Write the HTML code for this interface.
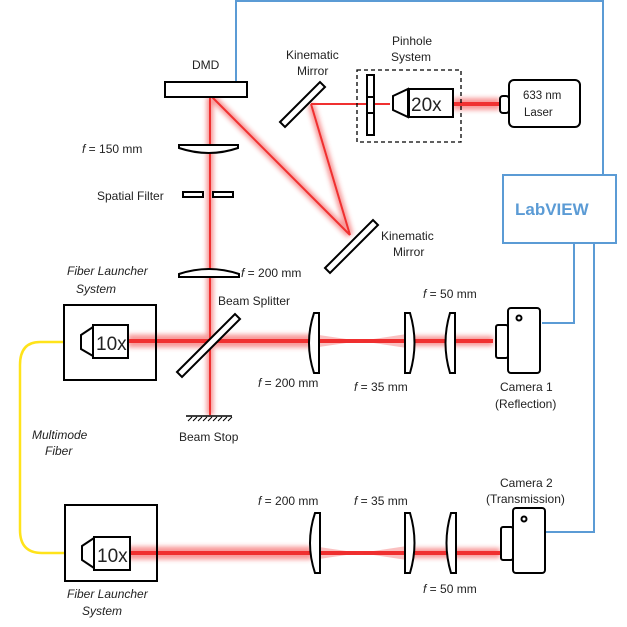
<!DOCTYPE html>
<html><head><meta charset="utf-8"><style>
body{margin:0;background:#fff}
svg{display:block}
text{font-family:"Liberation Sans",sans-serif;font-size:12px;fill:#222}
.i{font-style:italic}
</style></head><body>
<svg width="627" height="627" viewBox="0 0 627 627" xmlns="http://www.w3.org/2000/svg">
<defs>
<filter id="bl" x="-20%" y="-50%" width="140%" height="200%"><feGaussianBlur stdDeviation="2.5"/></filter>
</defs>
<g fill="none" stroke="#5b9bd5" stroke-width="2">
<polyline points="236,82 236,1 603,1 603,175"/>
<rect x="503" y="175" width="113" height="68" fill="#fff"/>
<polyline points="574,243 574,323 542,323"/>
<polyline points="594,243 594,532 545,532"/>
</g>
<text x="515" y="215" style="font-size:17px;font-weight:bold;fill:#5b9bd5">LabVIEW</text>

<g stroke="#f03030" fill="none">
<g stroke-width="7" opacity="0.5" filter="url(#bl)">
<line x1="210" y1="97" x2="210" y2="415"/>
<line x1="212" y1="97" x2="350" y2="235"/>
<line x1="311" y1="104" x2="350" y2="235"/>
<line x1="453" y1="104" x2="500" y2="104" stroke-width="12"/>
<line x1="128" y1="341" x2="312" y2="341" stroke-width="13"/>
<line x1="128" y1="553" x2="312" y2="553" stroke-width="13"/>
<line x1="407" y1="341" x2="493" y2="341" stroke-width="10"/>
<line x1="407" y1="553" x2="500" y2="553" stroke-width="10"/>
</g>
<line x1="210" y1="97" x2="210" y2="415" stroke-width="2"/>
<line x1="212" y1="97" x2="350" y2="235" stroke-width="2"/>
<line x1="311" y1="104" x2="350" y2="235" stroke-width="2"/>
<line x1="311" y1="104" x2="390" y2="104" stroke-width="2"/>
<line x1="453" y1="104" x2="500" y2="104" stroke-width="4"/>
<line x1="82" y1="341" x2="493" y2="341" stroke-width="4"/>
<line x1="82" y1="553" x2="500" y2="553" stroke-width="4"/>
</g>
<polygon points="312,334 360,341 312,348" fill="#f03030" opacity="0.3"/>
<polygon points="360,341 407,334 407,348" fill="#f03030" opacity="0.3"/>
<polygon points="312,546 360,553 312,560" fill="#f03030" opacity="0.3"/>
<polygon points="360,553 407,546 407,560" fill="#f03030" opacity="0.3"/>

<path d="M64,342 L40,342 Q20,342 20,365 L20,530 Q20,553 42,553 L65,553" fill="none" stroke="#ffe31a" stroke-width="2.5"/>

<g fill="#fff" stroke="#000" stroke-width="2">
<rect x="165" y="82" width="82" height="15"/>
<polygon points="280,122 320,82 325,87 285,127"/>
<polygon points="325,268 373,220 378,225 330,273"/>
<rect x="357" y="70" width="104" height="72" fill="none" stroke-dasharray="4,3" stroke-width="1.3"/>
<rect x="367" y="75" width="7" height="60"/>
<line x1="367" y1="97" x2="374" y2="97"/><line x1="367" y1="113" x2="374" y2="113"/>
<polygon points="393,96 408,89 408,117 393,110"/>
<rect x="409" y="89" width="44" height="28"/>
<rect x="509" y="80" width="71" height="47" rx="5"/>
<rect x="500" y="96" width="9" height="17" rx="3"/>
<path d="M179,145 L238,145 L238,148 Q209,158 179,148 Z"/>
<rect x="183" y="192" width="20" height="5"/>
<rect x="213" y="192" width="20" height="5"/>
<path d="M179,277 L239,277 L239,274 Q209,264 179,274 Z"/>
<polygon points="177,372 235,314 240,319 182,377"/>
<line x1="186" y1="416" x2="232" y2="416" stroke-width="1.5"/>
</g>
<g stroke="#000" stroke-width="1">
<line x1="188" y1="421" x2="192" y2="417"/><line x1="193" y1="421" x2="197" y2="417"/><line x1="198" y1="421" x2="202" y2="417"/><line x1="203" y1="421" x2="207" y2="417"/><line x1="208" y1="421" x2="212" y2="417"/><line x1="213" y1="421" x2="217" y2="417"/><line x1="218" y1="421" x2="222" y2="417"/><line x1="223" y1="421" x2="227" y2="417"/><line x1="228" y1="421" x2="232" y2="417"/>
</g>

<g fill="none" stroke="#000" stroke-width="2">
<rect x="64" y="305" width="92" height="75"/>
<polygon points="81,335 93,327 93,356 81,349" fill="#fff"/>
<rect x="93" y="325" width="35" height="33" fill="#fff"/>
<rect x="65" y="505" width="92" height="76"/>
<polygon points="82,546 94,538 94,568 82,560" fill="#fff"/>
<rect x="94" y="537" width="36" height="33" fill="#fff"/>
</g>
<g fill="#fff" stroke="#000" stroke-width="2">
<path d="M314,313 L319,313 L319,373 L314,373 Q304,343 314,313 Z"/>
<path d="M405,313 L410,313 Q419,343 410,373 L405,373 Z"/>
<path d="M450,313 L455,313 L455,373 L450,373 Q441,343 450,313 Z"/>
<path d="M315,513 L320,513 L320,573 L315,573 Q305,543 315,513 Z"/>
<path d="M405,513 L410,513 Q419,543 410,573 L405,573 Z"/>
<path d="M451,513 L456,513 L456,573 L451,573 Q442,543 451,513 Z"/>
<rect x="508" y="308" width="32" height="65" rx="3"/>
<rect x="496" y="325" width="12" height="33" rx="2"/>
<circle cx="519" cy="318" r="2.5"/>
<rect x="513" y="508" width="32" height="65" rx="3"/>
<rect x="501" y="527" width="12" height="33" rx="2"/>
<circle cx="524" cy="519" r="2.5"/>
</g>
<text x="96" y="350" style="font-size:19px">10x</text>
<text x="97" y="562" style="font-size:19px">10x</text>
<text x="411" y="111" style="font-size:19px">20x</text>
<text x="523" y="99" style="font-size:11.5px">633 nm</text>
<text x="524" y="116" style="font-size:11.5px">Laser</text>

<text x="192" y="69">DMD</text>
<text x="286" y="59">Kinematic</text>
<text x="297" y="75">Mirror</text>
<text x="392" y="45">Pinhole</text>
<text x="391" y="61">System</text>
<text x="381" y="240">Kinematic</text>
<text x="393" y="256">Mirror</text>
<text x="82" y="153"><tspan class="i">f</tspan> = 150 mm</text>
<text x="97" y="200">Spatial Filter</text>
<text x="241" y="277"><tspan class="i">f</tspan> = 200 mm</text>
<text x="67" y="275" class="i">Fiber Launcher</text>
<text x="76" y="293" class="i">System</text>
<text x="218" y="305">Beam Splitter</text>
<text x="423" y="298"><tspan class="i">f</tspan> = 50 mm</text>
<text x="258" y="387"><tspan class="i">f</tspan> = 200 mm</text>
<text x="354" y="391"><tspan class="i">f</tspan> = 35 mm</text>
<text x="500" y="391">Camera 1</text>
<text x="495" y="408">(Reflection)</text>
<text x="179" y="441">Beam Stop</text>
<text x="32" y="439" class="i">Multimode</text>
<text x="45" y="455" class="i">Fiber</text>
<text x="500" y="487">Camera 2</text>
<text x="486" y="503">(Transmission)</text>
<text x="258" y="505"><tspan class="i">f</tspan> = 200 mm</text>
<text x="354" y="505"><tspan class="i">f</tspan> = 35 mm</text>
<text x="423" y="593"><tspan class="i">f</tspan> = 50 mm</text>
<text x="67" y="598" class="i">Fiber Launcher</text>
<text x="82" y="615" class="i">System</text>
</svg>
</body></html>
